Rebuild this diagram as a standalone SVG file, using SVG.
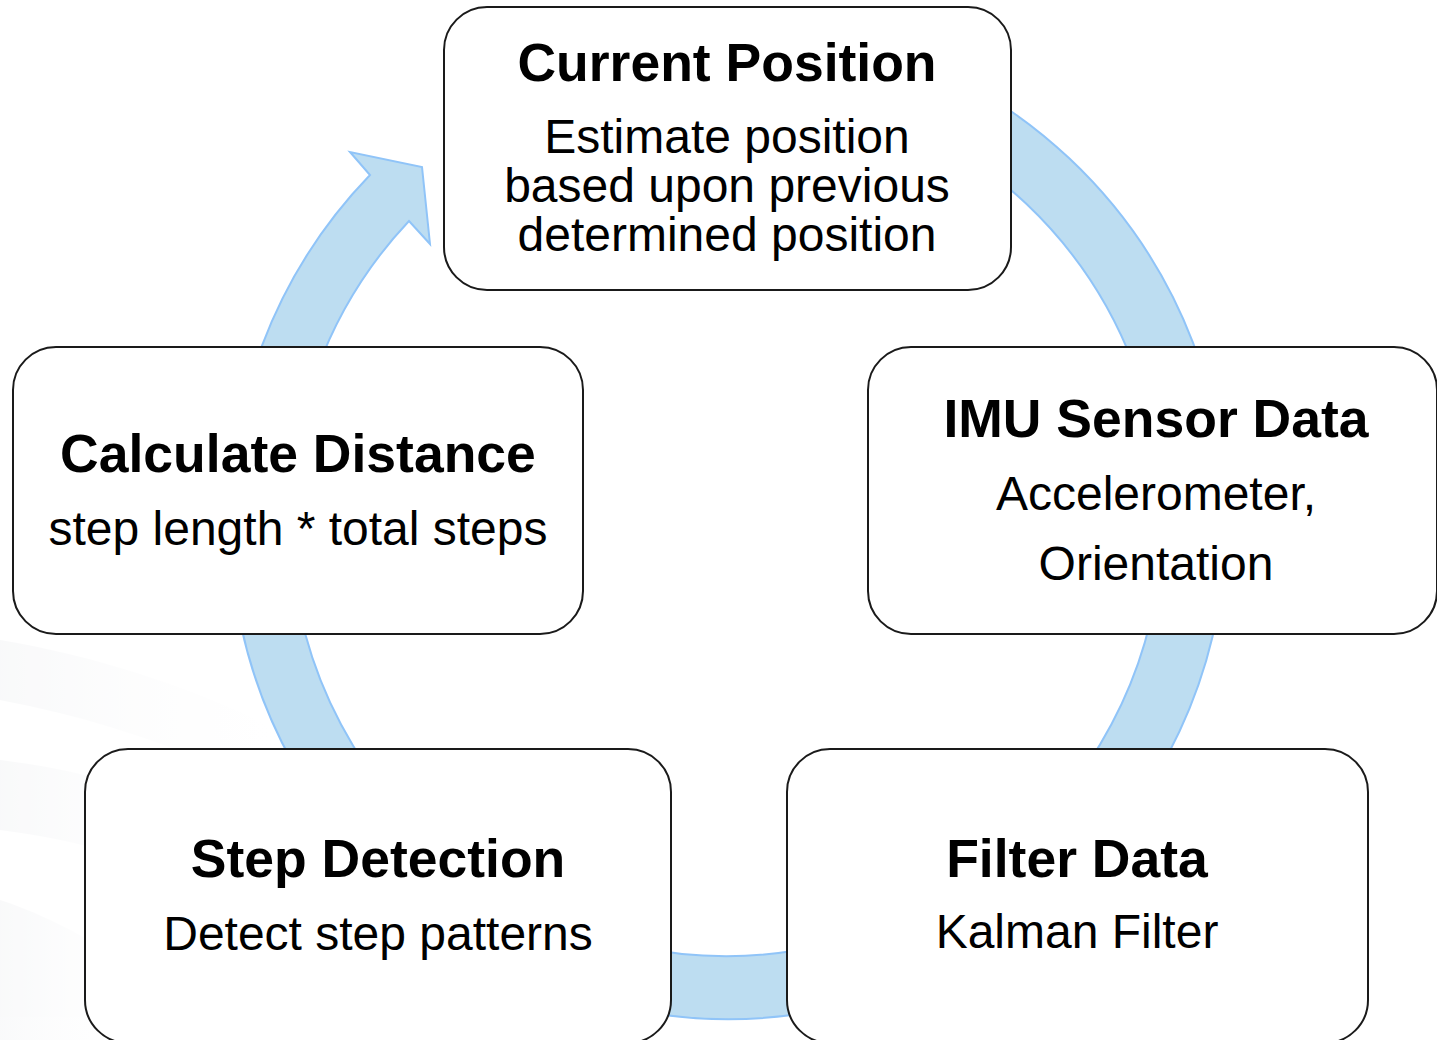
<svg xmlns="http://www.w3.org/2000/svg" width="1437" height="1040" viewBox="0 0 1437 1040">
  <style>
    .box { fill: #ffffff; stroke: #1a1a1a; stroke-width: 2; }
    .title { font-family: "Liberation Sans", Arial, sans-serif; font-weight: bold; font-size: 53.5px; fill: #000; text-anchor: middle; }
    .body { font-family: "Liberation Sans", Arial, sans-serif; font-size: 48px; fill: #000; text-anchor: middle; }
    .ring { fill: #BDDDF1; stroke: #90C4F8; stroke-width: 2; stroke-linejoin: miter; }
  </style>
  <defs>
    <linearGradient id="bgfade" x1="0" y1="0" x2="1" y2="0">
      <stop offset="0" stop-color="#eceef1" stop-opacity="0.7"/>
      <stop offset="1" stop-color="#ffffff" stop-opacity="0"/>
    </linearGradient>
  </defs>
  <rect x="0" y="0" width="1437" height="1040" fill="#ffffff"/>
  <g id="background" opacity="0.45">
    <path d="M0,640 C120,660 220,700 300,740 L300,800 C210,760 110,720 0,700 Z" fill="url(#bgfade)"/>
    <path d="M0,760 C80,770 150,790 220,820 L220,900 C150,860 80,840 0,830 Z" fill="url(#bgfade)"/>
    <path d="M0,900 C60,920 110,950 160,990 L160,1040 L0,1040 Z" fill="url(#bgfade)"/>
  </g>
  <g id="connectors">
    <path class="ring" d="M898,53 A498,498 0 1 1 370,175 L350,152 L422,167 L430,244 L409,221 A436,436 0 1 0 877,111 Z"/>
  </g>
  <g id="node-current-position">
    <rect class="box" x="444" y="7" width="567" height="283" rx="43" ry="43"/>
    <text class="title" x="727" y="81">Current Position</text>
    <text class="body" x="727" y="153">Estimate position</text>
    <text class="body" x="727" y="202">based upon previous</text>
    <text class="body" x="727" y="251">determined position</text>
  </g>
  <g id="node-imu">
    <rect class="box" x="868" y="347" width="569" height="287" rx="43" ry="43"/>
    <text class="title" x="1156" y="437">IMU Sensor Data</text>
    <text class="body" x="1156" y="510">Accelerometer,</text>
    <text class="body" x="1156" y="580">Orientation</text>
  </g>
  <g id="node-calculate-distance">
    <rect class="box" x="13" y="347" width="570" height="287" rx="43" ry="43"/>
    <text class="title" x="298" y="472">Calculate Distance</text>
    <text class="body" x="298" y="545">step length * total steps</text>
  </g>
  <g id="node-step-detection">
    <rect class="box" x="85" y="749" width="586" height="294" rx="43" ry="43"/>
    <text class="title" x="378" y="877">Step Detection</text>
    <text class="body" x="378" y="950">Detect step patterns</text>
  </g>
  <g id="node-filter-data">
    <rect class="box" x="787" y="749" width="581" height="294" rx="43" ry="43"/>
    <text class="title" x="1077" y="877">Filter Data</text>
    <text class="body" x="1077" y="948">Kalman Filter</text>
  </g>
</svg>
